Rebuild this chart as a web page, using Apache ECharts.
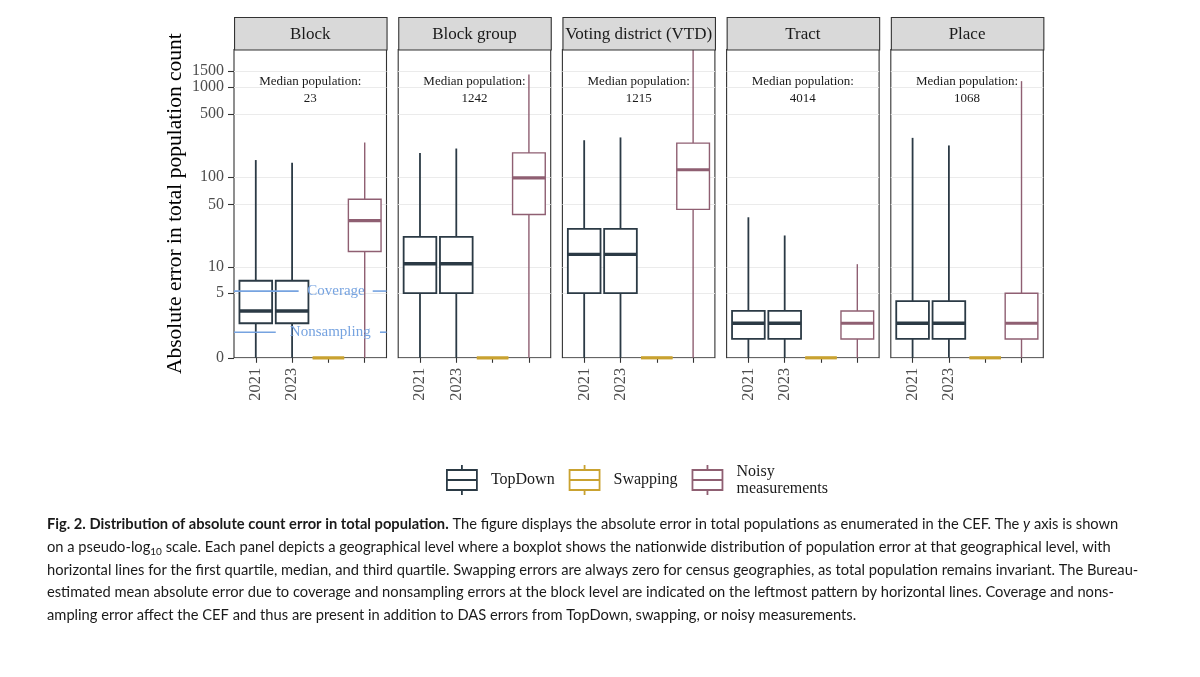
<!DOCTYPE html>
<html><head><meta charset="utf-8">
<script src="https://cdn.jsdelivr.net/npm/echarts@6/dist/echarts.min.js"></script>
<style>html,body{margin:0;padding:0;background:#fff}#chart{width:1200px;height:677px}</style>
</head><body><div id="chart"></div>
<script>
// ---------------- data ----------------
const levels = ['Block', 'Block group', 'Voting district (VTD)', 'Tract', 'Place'];
const medianPopulation = ['23', '1242', '1215', '4014', '1068'];
const xTickLabels = ['2021', '2023', '', ''];
const yTickValues = [0, 5, 10, 50, 100, 500, 1000, 1500];
const yTickLabels = ['0', '5', '10', '50', '100', '500', '1000', '1500'];
const yMaxValue = 2600;
const yTitle = 'Absolute error in total population count';
// [min, Q1, median, Q3, max] per level
const topDown2021 = [[0, 2, 3, 7, 155], [0, 5, 10.9, 21.8, 186], [0, 5, 13.9, 26.8, 257], [0, 1, 2, 3, 36], [0, 1, 2, 4, 273]];
const topDown2023 = [[0, 2, 3, 7, 145], [0, 5, 10.9, 21.8, 208], [0, 5, 13.9, 26.8, 276], [0, 1, 2, 3, 22.6], [0, 1, 2, 4, 225]];
const swapping = [[0, 0, 0, 0, 0], [0, 0, 0, 0, 0], [0, 0, 0, 0, 0], [0, 0, 0, 0, 0], [0, 0, 0, 0, 0]];
const noisy = [[0, 15, 33, 57, 243], [0, 38.7, 98.5, 186, 1377], [0, 44, 121, 239, 2600], [0, 1, 2, 3, 10.8], [0, 1, 2, 5, 1160]];
const seriesNames = ['TopDown', 'Swapping', 'Noisy measurements'];
const annotationLabels = ['Coverage', 'Nonsampling'];
const annotationValues = [5.3, 1.4];

const captionLines = [
  '{b|Fig. 2. Distribution of absolute count error in total population.}{n| The figure displays the absolute error in total populations as enumerated in the CEF. The }{i|y}{n| axis is shown}',
  '{n|on a pseudo-log}{s|10}{n| scale. Each panel depicts a geographical level where a boxplot shows the nationwide distribution of population error at that geographical level, with}',
  '{n|horizontal lines for the first quartile, median, and third quartile. Swapping errors are always zero for census geographies, as total population remains invariant. The Bureau-}',
  '{n|estimated mean absolute error due to coverage and nonsampling errors at the block level are indicated on the leftmost pattern by horizontal lines. Coverage and nons-}',
  '{n|ampling error affect the CEF and thus are present in addition to DAS errors from TopDown, swapping, or noisy measurements.}'
];

// ---------------- layout / style ----------------
const pl = v => Math.asinh(v / 2) / Math.LN10; // pseudo-log10 transform
const GRID_LEFT0 = 234, GRID_STEP = 164.2, GRID_W = 152.5, GRID_TOP = 49.5, GRID_H = 308.3;
const STRIP_TOP = 17;
const SERIF = 'Liberation Serif';
const SANS = 'Lato';
const CAP_SIZE = 14.7;
const C_TD = '#2b3a45', C_SW = '#c9a230', C_NM = '#8f5f72', C_ANN = '#76a3e0';
const annLayout = [
  { gap: [2.18, 4.22], textX: 3.21 },
  { gap: [1.55, 4.42], textX: 3.05 }
];

function boxRenderer(color, lw, medW, boxW) {
  return function (params, api) {
    const x = api.value(0);
    const w = api.size([boxW, 0])[0];
    const pMin = api.coord([x, api.value(1)]);
    const cx = pMin[0];
    const yMin = pMin[1];
    const yQ1 = api.coord([x, api.value(2)])[1];
    const yMed = api.coord([x, api.value(3)])[1];
    const yQ3 = api.coord([x, api.value(4)])[1];
    const yMax = api.coord([x, api.value(5)])[1];
    return {
      type: 'group', children: [
        { type: 'line', shape: { x1: cx, y1: yQ1, x2: cx, y2: yMin }, style: { stroke: color, lineWidth: lw } },
        { type: 'line', shape: { x1: cx, y1: yQ3, x2: cx, y2: yMax }, style: { stroke: color, lineWidth: lw } },
        { type: 'rect', shape: { x: cx - w / 2, y: yQ3, width: w, height: yQ1 - yQ3 }, style: { fill: '#fff', stroke: color, lineWidth: lw } },
        { type: 'line', shape: { x1: cx - w / 2, y1: yMed, x2: cx + w / 2, y2: yMed }, style: { stroke: color, lineWidth: medW } }
      ]
    };
  };
}
const toRow = (x, arr) => [x].concat(arr.map(pl));

const grids = [], xAxes = [], yAxes = [], series = [], graphics = [];
levels.forEach((lv, i) => {
  const left = GRID_LEFT0 + i * GRID_STEP;
  grids.push({ left: left, top: GRID_TOP, width: GRID_W, height: GRID_H, show: true, borderColor: '#333', borderWidth: 1.1, backgroundColor: '#fff' });
  xAxes.push({
    type: 'value', gridIndex: i, min: 0.4, max: 4.6,
    axisLine: { show: false }, splitLine: { show: false },
    axisTick: { show: true, customValues: [1, 2, 3, 4], length: 5, lineStyle: { color: '#333', width: 1.1 } },
    axisLabel: { show: true, customValues: [1, 2, 3, 4], rotate: 90, margin: 10, formatter: v => xTickLabels[Math.round(v) - 1],
      fontFamily: SERIF, fontSize: 16.5, color: '#4d4d4d' }
  });
  const tv = yTickValues.map(pl);
  yAxes.push({
    type: 'value', gridIndex: i, min: 0, max: pl(yMaxValue),
    axisLine: { show: false },
    axisTick: { show: i === 0, customValues: tv, length: 6, lineStyle: { color: '#333', width: 1.1 } },
    axisLabel: { show: i === 0, customValues: tv, margin: 10, fontFamily: SERIF, fontSize: 16, color: '#4d4d4d',
      formatter: v => { let b = 0; tv.forEach((t, k) => { if (Math.abs(t - v) < Math.abs(tv[b] - v)) b = k; }); return yTickLabels[b]; } },
    splitLine: { show: true, lineStyle: { color: '#ebebeb', width: 1.1 } },
    name: i === 0 ? yTitle : '', nameLocation: 'middle', nameGap: 48,
    nameTextStyle: { fontFamily: SERIF, fontSize: 21.5, color: '#000' }
  });
  series.push({
    type: 'custom', name: seriesNames[0], xAxisIndex: i, yAxisIndex: i, z: 3,
    itemStyle: { color: C_TD }, encode: { x: 0, y: [1, 2, 3, 4, 5] },
    renderItem: boxRenderer(C_TD, 1.8, 3.4, 0.9),
    data: [toRow(1, topDown2021[i]), toRow(2, topDown2023[i])]
  });
  series.push({
    type: 'custom', name: seriesNames[1], xAxisIndex: i, yAxisIndex: i, z: 3,
    itemStyle: { color: C_SW }, encode: { x: 0, y: [1, 2, 3, 4, 5] },
    renderItem: boxRenderer(C_SW, 1.6, 3.2, 0.87),
    data: [toRow(3, swapping[i])]
  });
  series.push({
    type: 'custom', name: seriesNames[2], xAxisIndex: i, yAxisIndex: i, z: 3,
    itemStyle: { color: C_NM }, encode: { x: 0, y: [1, 2, 3, 4, 5] },
    renderItem: boxRenderer(C_NM, 1.4, 3.2, 0.9),
    data: [toRow(4, noisy[i])]
  });
  // facet strip
  graphics.push({ type: 'rect', left: left, top: STRIP_TOP, z: 10,
    shape: { x: 0, y: 0, width: GRID_W, height: GRID_TOP - STRIP_TOP },
    style: { fill: '#d9d9d9', stroke: '#333', lineWidth: 1.1 } });
  graphics.push({ type: 'text', z: 11, x: left + GRID_W / 2, y: (STRIP_TOP + GRID_TOP) / 2 + 1,
    style: { text: lv, fontFamily: SERIF, fontSize: 17, fill: '#1a1a1a', align: 'center', verticalAlign: 'middle' } });
  // median population note
  graphics.push({ type: 'text', z: 11, x: left + GRID_W / 2, y: 90,
    style: { text: 'Median population:\n' + medianPopulation[i], fontFamily: SERIF, fontSize: 13, lineHeight: 17,
      fill: '#1a1a1a', align: 'center', verticalAlign: 'middle' } });
});

// coverage / nonsampling annotation on the Block panel
series.push({
  type: 'custom', name: 'annotation', xAxisIndex: 0, yAxisIndex: 0, z: 5, silent: true,
  encode: { x: 0, y: 1 },
  data: annotationValues.map((v, k) => [0.4, pl(v), k]),
  renderItem: function (params, api) {
    const k = api.value(2);
    const L = annLayout[k];
    const y = api.coord([0.4, api.value(1)])[1];
    const x0 = api.coord([0.4, 0])[0], x1 = api.coord([L.gap[0], 0])[0];
    const x2 = api.coord([L.gap[1], 0])[0], x3 = api.coord([4.6, 0])[0];
    const tx = api.coord([L.textX, 0])[0];
    return { type: 'group', children: [
      { type: 'line', shape: { x1: x0, y1: y, x2: x1, y2: y }, style: { stroke: C_ANN, lineWidth: 1.6 } },
      { type: 'line', shape: { x1: x2, y1: y, x2: x3, y2: y }, style: { stroke: C_ANN, lineWidth: 1.6 } },
      { type: 'text', x: tx, y: y, style: { text: annotationLabels[k], fontFamily: SERIF, fontSize: 15, fill: C_ANN, align: 'center', verticalAlign: 'middle' } }
    ] };
  }
});

// caption
const capStyle = (extra) => Object.assign({ fontFamily: SANS, fontSize: CAP_SIZE, fill: '#1a1a1a', lineHeight: 19 }, extra || {});
const capY = [524, 547, 570, 592.5, 615];
captionLines.forEach((t, k) => {
  graphics.push({ type: 'text', z: 11, x: 47, y: capY[k],
    style: { text: t, fontFamily: SANS, fontSize: CAP_SIZE, fill: '#1a1a1a', verticalAlign: 'middle',
      rich: { n: capStyle(), b: capStyle({ fontWeight: 'bold' }), i: capStyle({ fontStyle: 'italic' }),
        s: capStyle({ fontSize: 10, verticalAlign: 'bottom', lineHeight: 11 }) } } });
});

const glyph = 'path://M0,5 L30,5 L30,25 L0,25 Z M0,15 L30,15 M15,0 L15,5 M15,25 L15,30';
const legendColors = [C_TD, C_SW, C_NM];

const chart = echarts.init(document.getElementById('chart'), null, { renderer: 'canvas' });
chart.setOption({
  backgroundColor: '#fff',
  animation: false,
  grid: grids, xAxis: xAxes, yAxis: yAxes, series: series,
  legend: {
    left: 446, top: 463, padding: 0, itemWidth: 30, itemHeight: 30, itemGap: 14, selectedMode: false,
    data: seriesNames.map((n, k) => ({ name: n, icon: glyph,
      itemStyle: { color: 'rgba(0,0,0,0)', borderColor: legendColors[k], borderWidth: 1.8 } })),
    formatter: n => n === 'Noisy measurements' ? 'Noisy\nmeasurements' : n,
    textStyle: { fontFamily: SERIF, fontSize: 16, color: '#1a1a1a', lineHeight: 17, padding: [0, 0, 0, 9] }
  },
  graphic: graphics
});
</script></body></html>
